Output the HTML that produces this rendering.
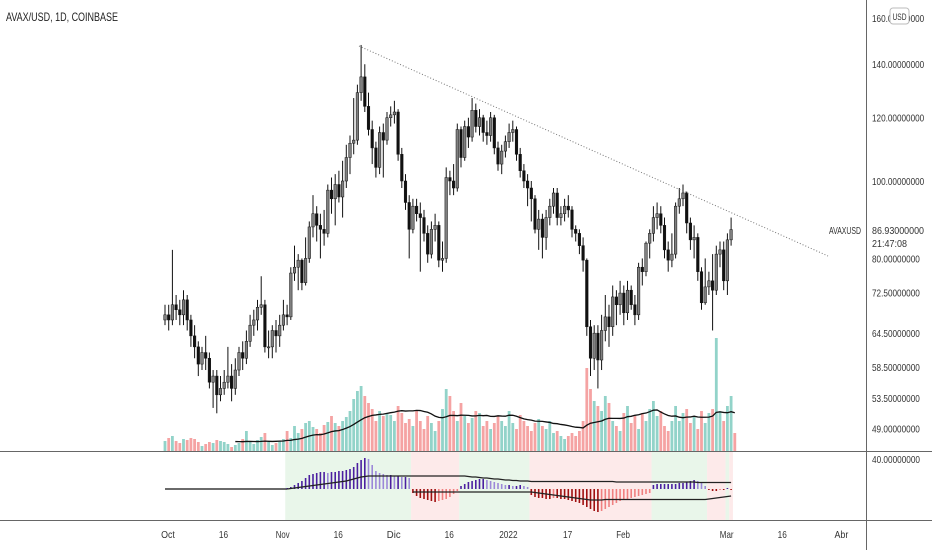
<!DOCTYPE html>
<html><head><meta charset="utf-8"><style>
html,body{margin:0;padding:0;background:#fff;width:932px;height:550px;overflow:hidden}
svg{display:block;font-family:"Liberation Sans",sans-serif}
</style></head><body>
<svg id="chart" width="932" height="550" viewBox="0 0 932 550">
<rect x="0" y="0" width="932" height="550" fill="#fff"/>
<g id="bands"></g>
<g id="vol"></g>
<g id="candles"></g>
<g id="ind"></g>
<line x1="359" y1="46" x2="828" y2="256" stroke="#777" stroke-width="1" stroke-dasharray="1,2"/>
<line x1="0" y1="451.5" x2="932" y2="451.5" stroke="#666"/>
<line x1="0" y1="520.5" x2="932" y2="520.5" stroke="#666"/>
<line x1="866.5" y1="0" x2="866.5" y2="550" stroke="#666"/>
<g id="yaxis"></g>
<g id="xaxis"></g>
<text x="6" y="21" font-size="12" fill="#222" textLength="112" lengthAdjust="spacingAndGlyphs">AVAX/USD, 1D, COINBASE</text>
<rect x="890" y="8" width="19" height="16" rx="3" fill="#fff" stroke="#bbb"/>
<text x="899.5" y="20" font-size="9" fill="#333" text-anchor="middle" textLength="14" lengthAdjust="spacingAndGlyphs">USD</text>
<rect x="867" y="222" width="65" height="28" fill="#fff"/>
<text x="829" y="234" font-size="10" fill="#333" textLength="32" lengthAdjust="spacingAndGlyphs">AVAXUSD</text>
<text x="872" y="234" font-size="10.5" fill="#333" textLength="52" lengthAdjust="spacingAndGlyphs">86.93000000</text>
<text x="872" y="247" font-size="10.5" fill="#333" textLength="35" lengthAdjust="spacingAndGlyphs">21:47:08</text>
</svg>
<script>
const closes=[68,67,70,69,68,71,67,64,62,59,61,60,56,57,54,55,56,57,55,58,61,60,63,66,67,69.5,70,62,62,65,64,66,68,67.6,76.7,78,79.6,74.6,80,87.6,91,88,87,86,97.4,95,99,95.5,100,107,111.5,112.5,129,135,124,116,110,104,115,112.5,120,121,122,108,100,94,87,93,91,90,86,81,87,88,79.6,80,101,100,98,116,107,117,113.5,122.6,117,120,115,114,120,110,105,109,112,115,116,108,103,100,98,95,87,89.6,85,90,93,96.6,90,91,93,92,87,86,83,79.6,65.7,60,64.5,59.7,65,67.6,65.7,71.6,70,72.4,68.4,73,70,68,78,77,83.6,86,90,91,88,82,79.6,81,93,95,96.6,88.6,84.4,85,77,70.4,73.7,75,73,81,82,75,84.4,86.93];
const highs=[70,70,82,72,71,73,72,68,66,63,62,64,61,58,58,57,58,62,59,60,62,63,65,68,69,71,76,71,65,66,67,68,71,70,78,83,81,80,85,89,96,93,91,92,99,101,102,103,106,111,114,127,132,148,140,129,119,112,117,118,122,124,126,123,110,102,96,95,95,94,92,88,89,91,89,84,104,103,105,118,117,119,120,127,125,123,121,119,122,121,112,111,114,118,119,117,110,105,102,100,96,92,91,92,95,98,98,93,95,96,93,88,87,85,80,67,66,66,68,72,70,74,73,75,74,75,74,72,79,80,84,87,93,94,93,90,84,86,94,98,99,97,90,88,86,78,80,77,81,83,84,84,86,90];
const lows=[66,65,66,67,66,66,65,62,60,57,58,58,55,52,51.2,53,54,55,53,54,57,58,59,62,64,65,68,61,60,60,61,62,65,66,67,75,73,73,74,79,85,84,80,83,85,91,88,94,90,98,102,108,111,126,122,114,105,101,102,101,111,117,118,106,98,92,80,86,89,77,84,79,80,84,78,77,79,96,96,97,104,106,110,112,115,114,112,111,112,108,103,102,107,110,112,106,101,98,93,89,86,82,80,82,88,91,88,88,89,90,85,84,81,77,64,57,58,55,58,63,62,64,66,68,66,67,69,66,67,74,76,80,84,87,86,80,77,78,80,91,93,86,82,80,75,69,70,72,65,72,78,73,72,83];
const volumes=[10,13,15,10,8,12,11,13,12,9,5,7,9,8,11,10,9,7,4,6,8,12,20,10,7,11,14,18,9,6,8,10,12,20,13,25,18,22,28,30,24,22,18,26,29,35,28,25,30,34,40,52,60,65,55,48,42,30,40,35,38,36,30,45,38,28,32,25,40,30,22,35,28,20,30,42,62,55,40,30,48,35,28,33,40,38,25,30,22,28,35,30,25,40,28,22,36,30,25,20,28,32,25,22,30,18,20,15,12,15,18,15,20,30,83,62,50,45,40,55,48,30,25,20,38,45,28,35,22,38,30,42,50,35,40,25,20,30,45,30,38,42,28,35,22,40,28,38,42,113,40,30,45,55,18];
const histStart=33;
const hist=[1,2,4,6,8,11,14,15,16,17,17,16,17,17,18,18,19,20,22,26,29,31,30,24,18,16,15,14,14,13,13,12,12,11,-4,-7,-9,-10,-11,-12,-13,-12,-11,-10,-8,-5,-2,3,5,7,8,9,10,10,9,8,7,6,5,4,4,3,3,4,3,2,-6,-8,-9,-9,-10,-10,-9,-9,-10,-10,-11,-12,-13,-14,-16,-18,-20,-22,-23,-22,-20,-18,-16,-14,-12,-11,-10,-9,-8,-7,-6,-5,-4,4,5,5,5,5,5,5,6,6,7,8,9,8,6,3,-1,-2,-2,-1,-1,1,-1];
const signal=[0,0.5,1,1.5,2,2.5,3,3.5,4,4.5,5,5.5,6,6.5,7,7.5,8,9,10,11,12,12.5,13,13,13,13,13,13,13,13,13,13,13,13,13,13,13,13,13,13,13,13,13,13,13,13,13,13,13,12.5,12,12,11.5,11,11,10.5,10,10,9.5,9,9,8.5,8.5,8,8,8,7.5,7.5,7.5,7.5,7.5,7.5,7.5,7.5,7.5,7.5,7.5,7.5,7.5,7.5,7.5,7.5,7.5,7.5,7.5,7.5,7.5,7.5,7.5,7,7,7,7,7,7,7,7,7,7,7,7,7,7,7,7,7,7,7,7,7,7,6.5,6.5,6.5,6.5,6.5,6.5,6.5,6.5,6.5,6.5];
const lowerStart=67;
const lowerLine=[-3,-3,-3,-3,-3,-3,-3,-3,-3,-3,-3,-3,-3,-3,-3,-3,-3,-3,-3,-3,-3,-3,-3,-3,-3,-3,-3,-3,-3,-3,-3,-3,-3,-3.5,-4,-4.5,-5,-5.5,-6,-6.5,-7,-7.5,-8,-8.5,-9,-9.5,-10,-10.5,-11,-11,-11,-11,-10.5,-10.5,-10.5,-10.5,-10.5,-10.5,-10.5,-10.5,-10.5,-10.5,-10.5,-10.5,-10.5,-10.5,-10.5,-10.5,-10.5,-10.5,-10.5,-10.5,-10.5,-10.5,-10.5,-10.5,-10.5,-10.5,-10.5,-10.5,-10,-9.5,-9,-8.5,-8,-7.5,-7];
const priceTicks=[160,140,120,100,80,72.5,64.5,58.5,53.5,49];
const priceTickLabels=["160.00000000","140.00000000","120.00000000","100.00000000","80.00000000","72.50000000","64.50000000","58.50000000","53.50000000","49.00000000"];
const dateTickDays=[0,15,31,46,61,76,92,108,123,151,166,182];
const dateTickLabels=["Oct","16","Nov","16","Dic","16","2022","17","Feb","Mar","16","Abr"];

const NS="http://www.w3.org/2000/svg";
function mk(tag,attrs,parent){const e=document.createElementNS(NS,tag);for(const k in attrs)e.setAttribute(k,attrs[k]);parent.appendChild(e);return e;}
const xI=i=>165+3.7*i;
const xD=d=>168+3.7*d;
const yP=p=>181-347*Math.log(p/100);
const yV=v=>451-v;
const yH=v=>489-v;

const gC=document.getElementById('candles');
for(let i=0;i<closes.length;i++){
  const o=i>0?closes[i-1]:closes[0]-1, c=closes[i];
  const x=xI(i), up=c>=o;
  const w=mk('line',{x1:x,x2:x,y1:yP(highs[i]),y2:yP(lows[i]),stroke:'#111','stroke-width':1},gC);
  
  
  const top=yP(Math.max(o,c)),bot=yP(Math.min(o,c));
  const b=mk('rect',{x:x-1.3,y:top,width:2.6,height:Math.max(1,bot-top),fill:up?'#808080':'#111',stroke:'#111','stroke-width':0.5},gC);
  
  
}
const gV=document.getElementById('vol');
for(let i=0;i<volumes.length;i++){
  const o=i>0?closes[i-1]:closes[0]-1, up=closes[i]>=o;
  const r=mk('rect',{x:xI(i)-1.4,y:yV(volumes[i]),width:2.8,height:volumes[i],fill:up?'#92d3c9':'#f5a3a3'},gV);
  
  
}
let pts=[];
for(let i=19;i<volumes.length;i++){let s=0;for(let k=i-19;k<=i;k++)s+=volumes[k];pts.push(xI(i)+','+yV(s/20));}
const ma=mk('polyline',{points:pts.join(' '),fill:'none',stroke:'#111','stroke-width':1.3},gV);



const gB=document.getElementById('bands');
let segStart=histStart,sign=hist[0]>=0;
for(let k=1;k<=hist.length;k++){
  const s=k<hist.length?hist[k]>=0:!sign;
  if(s!==sign){
    const x0=xI(segStart)-1.85,x1=xI(histStart+k)-1.85;
    const r=mk('rect',{x:x0,y:452,width:x1-x0,height:68,fill:sign?'#e9f6ea':'#fdeaea'},gB);
    
    
    segStart=histStart+k;sign=s;
  }
}
const gI=document.getElementById('ind');
const zl=mk('line',{x1:165,x2:xI(histStart),y1:489,y2:489,stroke:'#111','stroke-width':1.2},gI);


for(let k=0;k<hist.length;k++){
  const v=hist[k],pv=k>0?hist[k-1]:0,x=xI(histStart+k);
  let col;
  if(v>=0)col=v>=pv?'#4b1fa0':'#9c88d8';else col=v<=pv?'#a01010':'#f08080';
  const l=mk('line',{x1:x,x2:x,y1:yH(0),y2:yH(v),stroke:col,'stroke-width':1.6},gI);
  
  
}
const sp=signal.map((v,k)=>xI(histStart+k)+','+yH(v)).join(' ');
const sl=mk('polyline',{points:sp,fill:'none',stroke:'#222','stroke-width':1.2},gI);


const lp=lowerLine.map((v,k)=>xI(lowerStart+k)+','+yH(v)).join(' ');
const ll=mk('polyline',{points:lp,fill:'none',stroke:'#222','stroke-width':1.2},gI);



const gY=document.getElementById('yaxis');
priceTicks.forEach((p,k)=>{
  const lab=priceTickLabels[k];
  const t=mk('text',{x:872,y:yP(p)+4,'font-size':10.5,fill:'#333',textLength:lab.length*4.35,lengthAdjust:'spacingAndGlyphs'},gY);
  t.textContent=lab;
  
  
});
const t40=mk('text',{x:872,y:463,'font-size':10.5,fill:'#333',textLength:48,lengthAdjust:'spacingAndGlyphs'},gY);
t40.textContent='40.00000000';


const gX=document.getElementById('xaxis');
dateTickDays.forEach((d,k)=>{
  const lab=dateTickLabels[k];
  const t=mk('text',{x:xD(d),y:538,'font-size':10.5,fill:'#333','text-anchor':'middle',textLength:lab.length*4.6,lengthAdjust:'spacingAndGlyphs'},gX);
  t.textContent=lab;
  
  
});
</script>
</body></html>
